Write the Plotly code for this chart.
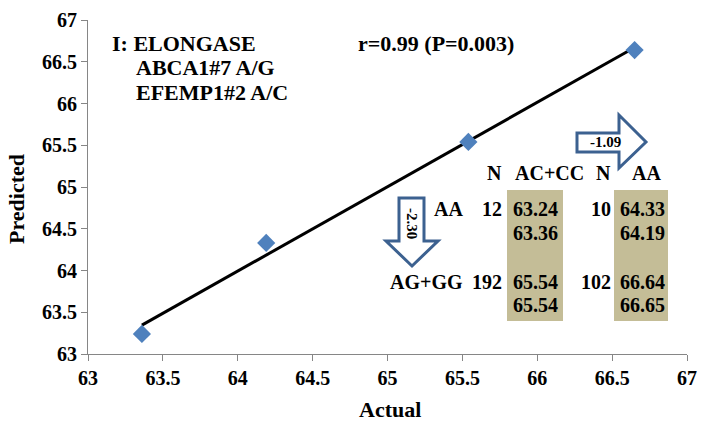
import numpy as np
import plotly.graph_objects as go

# data points (actual vs predicted)
actual = [63.36, 64.19, 65.54, 66.65]
predicted = [63.24, 64.33, 65.54, 66.64]

# table contents
col_headers = ['N', 'AC+CC', 'N', 'AA']
row_labels = ['AA', 'AG+GG']
n_acc = ['12', '192']
n_aa = ['10', '102']
vals_acc = [['63.24', '63.36'], ['65.54', '65.54']]
vals_aa = [['64.33', '64.19'], ['66.64', '66.65']]
arrow_down_label = '-2.30'
arrow_right_label = '-1.09'

W, H = 708, 427
L, R, T, B = 88, 21, 20, 73
PW, PH = W - L - R, H - T - B

def px(x):
    return (x - L) / PW

def py(y):
    return (H - B - y) / PH

FONT = "'Liberation Serif', 'Times New Roman', serif"
BLUE = '#4F81BD'
ARROW = '#3C6190'
TAN = '#C4BD97'

fig = go.Figure()

# linear trendline
slope, icpt = np.polyfit(actual, predicted, 1)
xl = np.array([min(actual), max(actual)])
fig.add_trace(go.Scatter(x=xl, y=slope * xl + icpt, mode='lines',
                         line=dict(color='black', width=3), showlegend=False))

fig.add_trace(go.Scatter(x=actual, y=predicted, mode='markers',
                         marker=dict(symbol='diamond', size=14, color=BLUE),
                         showlegend=False, cliponaxis=False))

shapes = []
# tan boxes behind table values
for x0, x1 in [(507, 563), (614, 668)]:
    shapes.append(dict(type='rect', xref='paper', yref='paper',
                       x0=px(x0), x1=px(x1), y0=py(321), y1=py(190),
                       fillcolor=TAN, line=dict(width=0), layer='below'))

def path(pts):
    return 'M ' + ' L '.join(f'{px(a):.5f},{py(b):.5f}' for a, b in pts) + ' Z'

down = [(399, 198), (424, 198), (424, 241), (438, 241), (412, 266), (386, 241), (399, 241)]
right = [(577, 133), (619, 133), (619, 115), (646, 142), (619, 168), (619, 152), (577, 152)]
for pts in (down, right):
    shapes.append(dict(type='path', xref='paper', yref='paper', path=path(pts),
                       fillcolor='white', line=dict(color=ARROW, width=3)))

ann = []

def text(s, x, y, size=20, xanchor='center', angle=0):
    ann.append(dict(text=s, x=px(x), y=py(y), xref='paper', yref='paper',
                    xanchor=xanchor, yanchor='middle', showarrow=False, textangle=angle,
                    font=dict(family=FONT, size=size, color='black', weight='bold')))

text('I: ELONGASE', 110, 43, 22, 'left')
text('ABCA1#7 A/G', 134, 67, 22, 'left')
text('EFEMP1#2 A/C', 134, 92, 22, 'left')
text('r=0.99 (P=0.003)', 356, 43, 22, 'left')

# table header
for s, x in zip(col_headers, [495, 549, 603, 646]):
    text(s, x, 173)

row_y = [(209, 233), (282, 305)]
for i in range(2):
    y1, y2 = row_y[i]
    text(row_labels[i], 465, y1, xanchor='right')
    text(n_acc[i], 504, y1, xanchor='right')
    text(vals_acc[i][0], 535, y1)
    text(vals_acc[i][1], 535, y2)
    text(n_aa[i], 613, y1, xanchor='right')
    text(vals_aa[i][0], 642, y1)
    text(vals_aa[i][1], 642, y2)

text(arrow_down_label, 412, 224, 15, angle=90)
text(arrow_right_label, 605, 142, 15)

# axis titles
text('Actual', 390, 409, 22)
text('Predicted', 16, 199, 22, angle=-90)

axis_common = dict(showgrid=False, zeroline=False, showline=True, linecolor='#868686',
                   linewidth=1, ticks='outside', tickcolor='#868686', ticklen=6,
                   tickfont=dict(family=FONT, size=20, color='black', weight='bold'),
                   dtick=0.5, range=[63, 67], automargin=False)

fig.update_xaxes(**axis_common)
fig.update_yaxes(**axis_common)

fig.update_layout(width=W, height=H, margin=dict(l=L, r=R, t=T, b=B),
                  plot_bgcolor='white', paper_bgcolor='white',
                  shapes=shapes, annotations=ann)

# drop the default body margin so the figure sits at the page corner
fig.write_html('out.html', config={'displayModeBar': False},
               post_script="document.body.style.margin='0';")
